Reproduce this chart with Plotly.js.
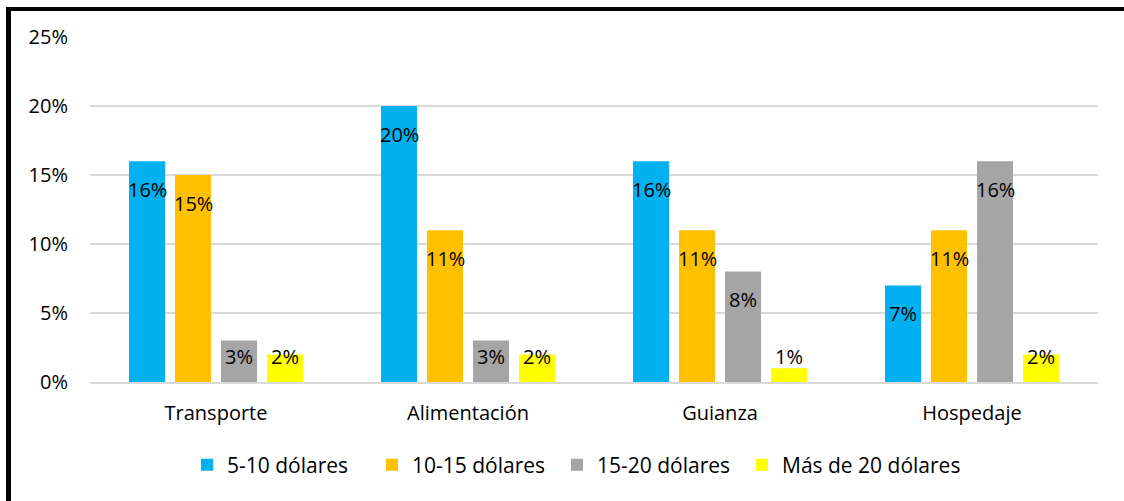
<!DOCTYPE html>
<html>
<head>
<meta charset="utf-8">
<script src="https://cdn.plot.ly/plotly-3.0.1.min.js"></script>
<style>
  html, body { margin: 0; padding: 0; background: #fff; }
  #chart { width: 1124px; height: 501px; }
</style>
</head>
<body>
<div id="chart"></div>
<script>
// ---- data ----
const categories = ["Transporte", "Alimentación", "Guianza", "Hospedaje"];
const seriesNames = ["5-10 dólares", "10-15 dólares", "15-20 dólares", "Más de 20 dólares"];
const s5a10 = [16, 20, 16, 7];
const s10a15 = [15, 11, 11, 11];
const s15a20 = [3, 3, 8, 16];
const sMas20 = [2, 2, 1, 2];
const yTickVals = [0, 5, 10, 15, 20, 25];

// ---- styles ----
const colors = ["#00B0F0", "#FFC000", "#A5A5A5", "#FFFF00"];
const FONT = "Open Sans, Noto Sans, sans-serif";
const W = 1124, H = 501;
const M = { l: 90, r: 26, t: 37, b: 119 };
const plotW = W - M.l - M.r, plotH = H - M.t - M.b;
const slotPx = 46;           // horizontal distance between grouped bars
const labelDrop = 2.03;      // label centre below bar top (data units)
const labelMin = 1.88;       // lowest label centre (data units)

const allSeries = [s5a10, s10a15, s15a20, sMas20];

const traces = allSeries.map((vals, i) => ({
  type: "bar",
  name: seriesNames[i],
  x: categories,
  y: vals,
  marker: { color: colors[i], line: { width: 0 } },
  hoverinfo: "none",
  textposition: "none"
}));

// invisible spacer legend entry so the last legend text is not clipped
traces.push({
  type: "scatter",
  mode: "markers",
  name: " ",
  x: [null], y: [null],
  marker: { opacity: 0, size: 1 },
  hoverinfo: "none",
  showlegend: true
});

const annotations = [];
allSeries.forEach((vals, i) => {
  vals.forEach((v, j) => {
    annotations.push({
      x: categories[j],
      y: Math.max(v - labelDrop, labelMin),
      xref: "x", yref: "y",
      xshift: (i - 1.5) * slotPx,
      text: v + "%",
      showarrow: false,
      yanchor: "middle",
      font: { family: FONT, size: 20, color: "#000" }
    });
  });
});

// border (left + top black lines) in paper coords
const px2x = p => (p - M.l) / plotW;
const py2y = p => (H - M.b - p) / plotH;
const shapes = [
  { type: "line", xref: "paper", yref: "paper",
    x0: px2x(8.5), x1: px2x(8.5), y0: py2y(7), y1: py2y(H + 5),
    line: { color: "#000", width: 5 } },
  { type: "line", xref: "paper", yref: "paper",
    x0: px2x(6), x1: px2x(W + 5), y0: py2y(9), y1: py2y(9),
    line: { color: "#000", width: 4 } }
];

const layout = {
  width: W, height: H,
  margin: M,
  paper_bgcolor: "#fff",
  plot_bgcolor: "#fff",
  barmode: "group",
  bargap: 1 - (4 * slotPx) / (plotW / 4),
  bargroupgap: 10 / slotPx,
  showlegend: true,
  legend: {
    orientation: "h",
    x: px2x(187), xanchor: "left",
    y: py2y(465), yanchor: "middle",
    font: { family: FONT, size: 21, color: "#000" },
    entrywidthmode: "pixels",
    entrywidth: 140,
    traceorder: "normal",
    bgcolor: "rgba(0,0,0,0)"
  },
  xaxis: {
    type: "category",
    showgrid: false,
    showline: true,
    linecolor: "#d9d9d9",
    linewidth: 1.5,
    ticks: "",
    ticklabelstandoff: 12,
    tickfont: { family: FONT, size: 20, color: "#000" },
    fixedrange: true
  },
  yaxis: {
    range: [0, 25],
    tickvals: yTickVals,
    ticktext: yTickVals.map(v => v + "%"),
    showgrid: true,
    gridcolor: "#d9d9d9",
    gridwidth: 1.5,
    zeroline: false,
    showline: false,
    ticks: "",
    ticklabelstandoff: 21,
    tickfont: { family: FONT, size: 20, color: "#000" },
    fixedrange: true
  },
  annotations: annotations,
  shapes: shapes
};

Plotly.newPlot("chart", traces, layout, { displayModeBar: false, staticPlot: true });
</script>
</body>
</html>
